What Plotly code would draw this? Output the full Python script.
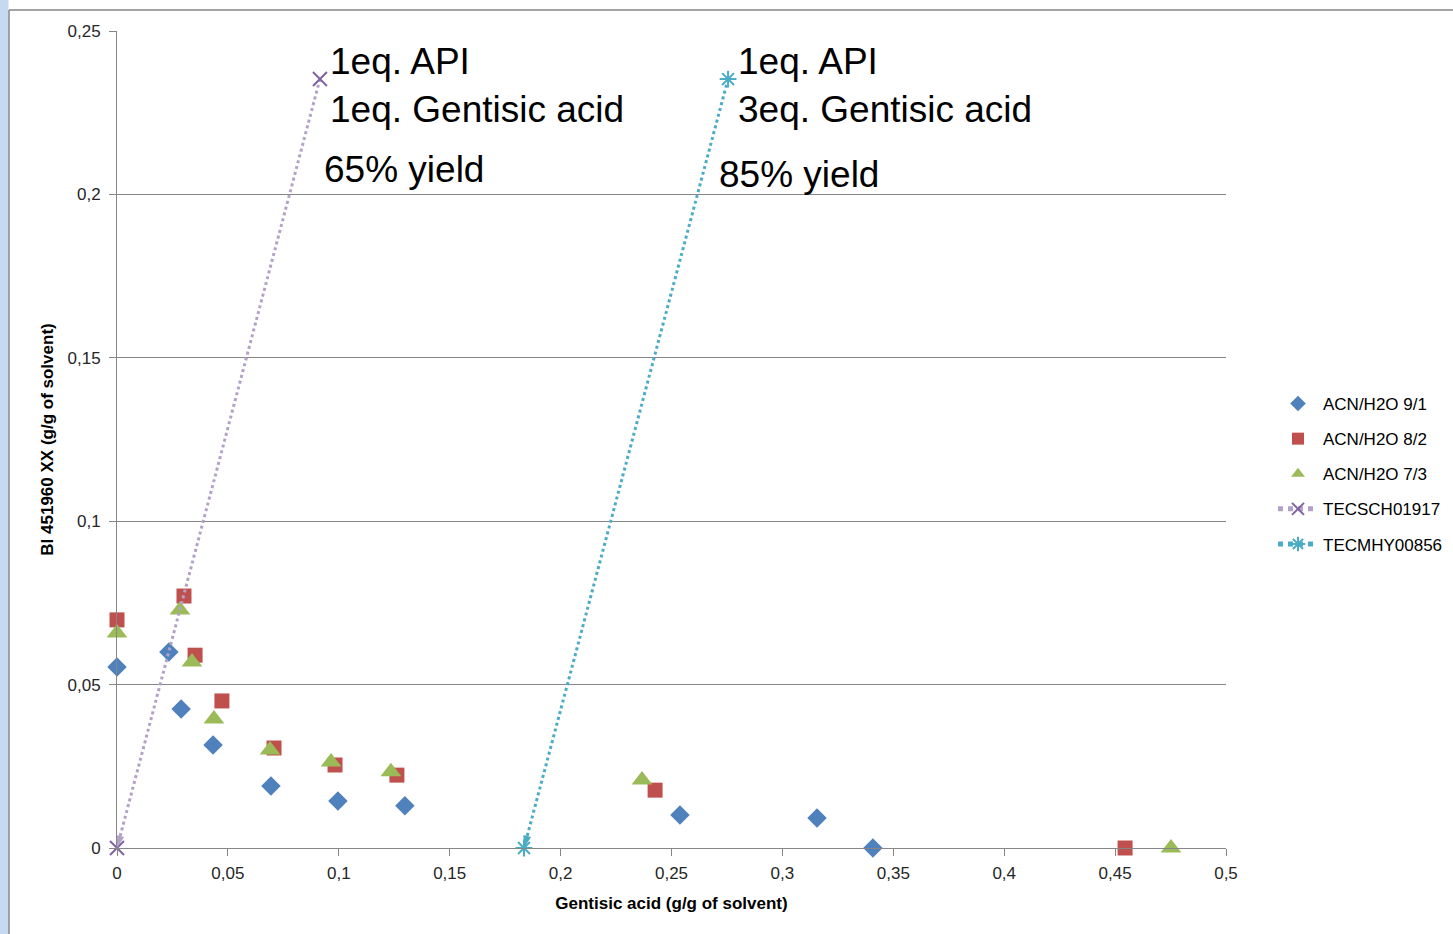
import plotly.graph_objects as go

# Solubility data (g/g of solvent)
acn91_x = [0.0, 0.0234, 0.0289, 0.0433, 0.0694, 0.0996, 0.1298, 0.2538, 0.3156, 0.3408]
acn91_y = [0.0554, 0.0600, 0.0425, 0.0315, 0.0190, 0.0144, 0.0129, 0.0101, 0.0092, 0.0]

acn82_x = [0.0, 0.0302, 0.0352, 0.0473, 0.0708, 0.0983, 0.1262, 0.2426, 0.4545]
acn82_y = [0.0698, 0.0771, 0.0590, 0.0450, 0.0306, 0.0254, 0.0223, 0.0177, 0.0]

acn73_x = [0.0, 0.0284, 0.0338, 0.0437, 0.0690, 0.0965, 0.1235, 0.2367, 0.4752]
acn73_y = [0.0658, 0.0728, 0.0569, 0.0395, 0.0300, 0.0263, 0.0233, 0.0208, 0.0]

# Crystallisation trajectories (start -> end)
sch_x = [0.0915, 0.0]
sch_y = [0.2353, 0.0]
mhy_x = [0.2755, 0.1835]
mhy_y = [0.2353, 0.0]

W, H = 1453, 934
L, R, T, B = 117, 227, 31, 86

BLUE = "#4F81BD"
RED = "#C0504D"
GREEN = "#9BBB59"
PURPLE = "#8064A2"
PURPLE_LT = "#B3A2C7"
TEAL = "#4BACC6"

FONT = "Liberation Sans, Arial, sans-serif"
ARROW_ANGLE = 195  # arrowhead heading along the trajectories

fig = go.Figure()

fig.add_trace(go.Scatter(x=acn91_x, y=acn91_y, mode="markers", name="ACN/H2O 9/1",
                         legendgroup="a", cliponaxis=False,
                         marker=dict(symbol="diamond", size=15, color=BLUE)))
fig.add_trace(go.Scatter(x=acn82_x, y=acn82_y, mode="markers", name="ACN/H2O 8/2",
                         legendgroup="b", cliponaxis=False,
                         marker=dict(symbol="square", size=15, color=RED)))
fig.add_trace(go.Scatter(x=acn73_x, y=acn73_y, mode="markers", name="ACN/H2O 7/3",
                         legendgroup="c", cliponaxis=False,
                         marker=dict(symbol="triangle-up", size=18, color=GREEN)))

# trajectory lines with end markers and arrowheads
for xs, ys, name, grp, sym, mcol, lcol in [
        (sch_x, sch_y, "TECSCH01917", "d", "x-thin", PURPLE, PURPLE_LT),
        (mhy_x, mhy_y, "TECMHY00856", "e", "asterisk", TEAL, TEAL)]:
    fig.add_trace(go.Scatter(x=xs, y=ys, mode="lines+markers", name=name,
                             legendgroup=grp, cliponaxis=False,
                             line=dict(color=lcol, width=3, dash="dot"),
                             marker=dict(symbol=sym, size=14, color=mcol,
                                         line=dict(width=2, color=mcol))))
    fig.add_trace(go.Scatter(x=xs[-1:], y=ys[-1:], mode="markers", showlegend=False,
                             legendgroup=grp, cliponaxis=False,
                             marker=dict(symbol="arrow", size=13, angle=ARROW_ANGLE,
                                         color=lcol, line=dict(width=0))))

big = dict(family=FONT, size=37, color="black")
for x0, y0, txt in [(sch_x[0], sch_y[0], "1eq. API<br>1eq. Gentisic acid"),
                    (mhy_x[0], mhy_y[0], "1eq. API<br>3eq. Gentisic acid")]:
    fig.add_annotation(x=x0 + 0.0038, y=y0 + 0.0122, text=txt, showarrow=False,
                       xanchor="left", yanchor="top", align="left", font=big)
fig.add_annotation(x=sch_x[0] + 0.0010, y=0.2075, text="65% yield", showarrow=False,
                   xanchor="left", yanchor="middle", font=big)
fig.add_annotation(x=mhy_x[0] - 0.0050, y=0.2062, text="85% yield", showarrow=False,
                   xanchor="left", yanchor="middle", font=big)


def px(x):
    return (x - L) / (W - L - R)


def py(y):
    return (H - B - y) / (H - T - B)


# chart frame and left strip
fig.add_shape(type="rect", xref="paper", yref="paper", x0=px(0), x1=px(8.5), y0=py(H), y1=py(0),
              fillcolor="#C5D9F1", line=dict(width=0), layer="below")
fig.add_shape(type="line", xref="paper", yref="paper", x0=px(9), x1=px(9), y0=py(10), y1=py(H),
              line=dict(color="#868686", width=1.5))
fig.add_shape(type="line", xref="paper", yref="paper", x0=px(9), x1=px(W), y0=py(10), y1=py(10),
              line=dict(color="#868686", width=1.5))

tickfont = dict(family=FONT, size=17, color="#262626")
titlefont = dict(family=FONT, size=17, color="black")

fig.update_layout(
    width=W, height=H,
    margin=dict(l=L, r=R, t=T, b=B, autoexpand=False),
    paper_bgcolor="white", plot_bgcolor="white",
    separators=", ",
    legend=dict(x=px(1273), y=py(386), xanchor="left", yanchor="top",
                font=dict(family=FONT, size=17, color="black"),
                tracegroupgap=10, itemsizing="constant", itemwidth=40,
                bgcolor="rgba(0,0,0,0)"),
    xaxis=dict(range=[0, 0.5], dtick=0.05, tick0=0, showgrid=False, zeroline=False,
               showline=True, linecolor="#868686", linewidth=1,
               ticks="outside", ticklen=7, tickcolor="#868686", tickfont=tickfont,
               tickformat=".2~f", ticklabelstandoff=3,
               title=dict(text="<b>Gentisic acid (g/g of solvent)</b>", font=titlefont, standoff=14)),
    yaxis=dict(range=[0, 0.25], dtick=0.05, tick0=0, showgrid=True, gridcolor="#868686", gridwidth=1,
               zeroline=False, showline=True, linecolor="#868686", linewidth=1,
               ticks="outside", ticklen=7, tickcolor="#868686", tickfont=tickfont,
               tickformat=".2~f", ticklabelstandoff=5,
               title=dict(text="<b>BI 451960 XX (g/g of solvent)</b>", font=titlefont, standoff=9)),
)

fig.write_html("out.html")
